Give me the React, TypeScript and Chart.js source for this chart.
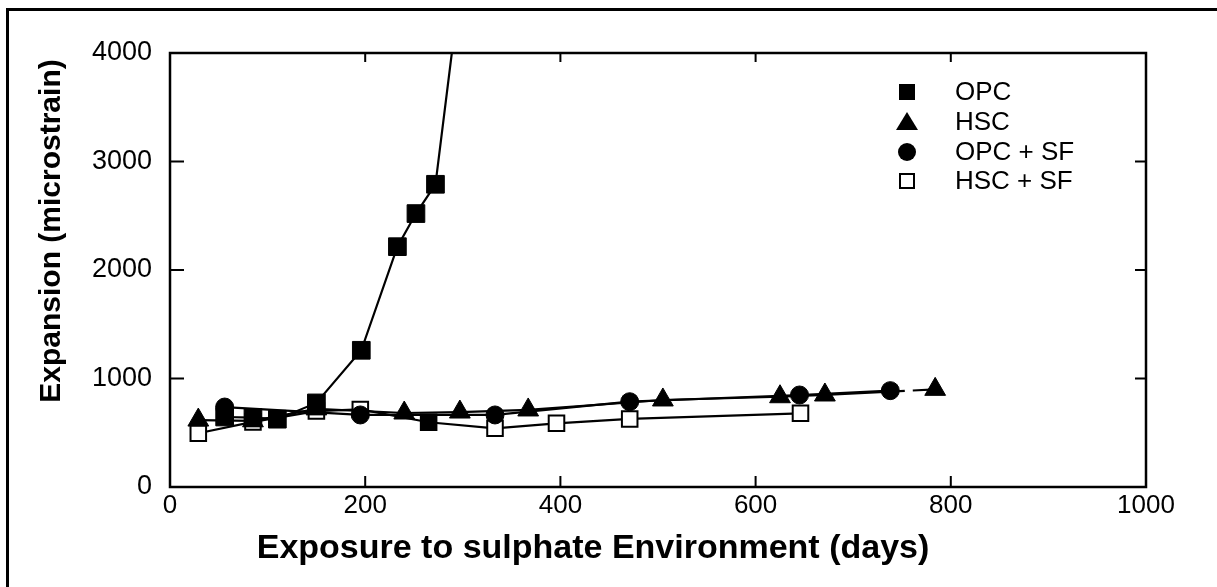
import React, { useEffect, useRef } from 'react';
import { Chart, registerables } from 'chart.js';

Chart.register(...registerables);

// ---- data ----
const xTicks = [0, 200, 400, 600, 800, 1000];
const yTicks = [0, 1000, 2000, 3000, 4000];

const seriesNames = ['OPC', 'HSC', 'OPC + SF', 'HSC + SF'];

const opcDays = [56, 85, 110, 150, 196, 233, 252, 272, 295];
const opcValues = [645, 640, 625, 775, 1260, 2215, 2520, 2790, 4450];

const hscDays = [29, 85, 150, 240, 297, 367, 505, 625, 671, 784];
const hscValues = [617, 610, 720, 682, 691, 710, 802, 832, 848, 900];

const opcSfDays = [56, 195, 333, 471, 645, 738];
const opcSfValues = [737, 664, 664, 786, 848, 888];

const hscSfDays = [29, 85, 150, 195, 265, 333, 396, 471, 646];
const hscSfValues = [495, 600, 700, 715, 597, 541, 587, 627, 679];

const xTitle = 'Exposure to sulphate Environment (days)';
const yTitle = 'Expansion (microstrain)';

const FONT = "'Liberation Sans', Arial, Helvetica, sans-serif";

const toPoints = (xs: number[], ys: number[]) => xs.map((x, i) => ({ x, y: ys[i] }));

const legendStyles = [
  { shape: 'rect', fill: true },
  { shape: 'triangle', fill: true },
  { shape: 'circle', fill: true },
  { shape: 'rect', fill: false },
];

const decorPlugin = {
  id: 'decor',
  afterDraw(chart: any) {
    const { ctx, chartArea: a, scales } = chart;
    const xs = scales.x;
    const ys = scales.y;
    ctx.save();
    ctx.strokeStyle = '#000';
    ctx.fillStyle = '#000';
    // frame
    ctx.lineWidth = 2.5;
    ctx.strokeRect(a.left, a.top, a.right - a.left, a.bottom - a.top);
    // inward ticks on all four sides
    ctx.lineWidth = 2;
    ctx.beginPath();
    xs.ticks.forEach((t: any) => {
      if (t.value <= xs.min || t.value >= xs.max) return;
      const px = xs.getPixelForValue(t.value);
      ctx.moveTo(px, a.bottom);
      ctx.lineTo(px, a.bottom - 11);
      ctx.moveTo(px, a.top);
      ctx.lineTo(px, a.top + 9);
    });
    ys.ticks.forEach((t: any) => {
      if (t.value <= ys.min || t.value >= ys.max) return;
      const py = ys.getPixelForValue(t.value);
      ctx.moveTo(a.left, py);
      ctx.lineTo(a.left + 14, py);
      ctx.moveTo(a.right, py);
      ctx.lineTo(a.right - 11, py);
    });
    ctx.stroke();

    // axis titles
    ctx.textAlign = 'center';
    ctx.textBaseline = 'middle';
    ctx.font = `bold 30px ${FONT}`;
    ctx.save();
    ctx.translate(52, 231);
    ctx.rotate(-Math.PI / 2);
    ctx.fillText(yTitle, 0, 0);
    ctx.restore();
    ctx.font = `bold 34px ${FONT}`;
    ctx.fillText(xTitle, 593, 549);

    // legend
    const rows = [92, 122, 152, 181];
    const mx = 907;
    ctx.font = `26px ${FONT}`;
    ctx.textAlign = 'left';
    seriesNames.forEach((name, i) => {
      const y = rows[i];
      const st = legendStyles[i];
      ctx.beginPath();
      if (st.shape === 'rect') {
        const s = 16;
        if (st.fill) {
          ctx.fillRect(mx - s / 2, y - s / 2, s, s);
        } else {
          ctx.lineWidth = 2;
          ctx.strokeRect(mx - 7, y - 7, 14, 14);
        }
      } else if (st.shape === 'triangle') {
        ctx.moveTo(mx, y - 10);
        ctx.lineTo(mx + 11, y + 8);
        ctx.lineTo(mx - 11, y + 8);
        ctx.closePath();
        ctx.fill();
      } else {
        ctx.arc(mx, y, 9, 0, Math.PI * 2);
        ctx.fill();
      }
      ctx.fillText(name, 955, y + 1);
    });
    ctx.restore();
  },
};

export default function App() {
  const ref = useRef<HTMLCanvasElement>(null);

  useEffect(() => {
    if (!ref.current) return;
    const lastHsc = hscDays.length - 1;
    const chart = new Chart(ref.current, {
      type: 'line',
      data: {
        datasets: [
          {
            label: seriesNames[0],
            data: toPoints(opcDays, opcValues),
            borderColor: '#000',
            borderWidth: 2.2,
            pointStyle: 'rect',
            pointRadius: 12.5,
            pointBackgroundColor: '#000',
            pointBorderColor: '#000',
            pointBorderWidth: 1,
            tension: 0,
          },
          {
            label: seriesNames[1],
            data: toPoints(hscDays, hscValues),
            borderColor: '#000',
            borderWidth: 2.2,
            pointStyle: 'triangle',
            pointRadius: 12,
            pointBackgroundColor: '#000',
            pointBorderColor: '#000',
            pointBorderWidth: 1,
            tension: 0,
            segment: {
              borderDash: (c: any) => (c.p1DataIndex === lastHsc ? [80, 8, 300] : undefined),
            },
          },
          {
            label: seriesNames[2],
            data: toPoints(opcSfDays, opcSfValues),
            borderColor: '#000',
            borderWidth: 2.2,
            pointStyle: 'circle',
            pointRadius: 9,
            pointBackgroundColor: '#000',
            pointBorderColor: '#000',
            pointBorderWidth: 1,
            tension: 0,
          },
          {
            label: seriesNames[3],
            data: toPoints(hscSfDays, hscSfValues),
            borderColor: '#000',
            borderWidth: 2.2,
            pointStyle: 'rect',
            pointRadius: 11,
            pointBackgroundColor: (c: any) => (c.dataIndex === 4 ? '#000' : '#fff'),
            pointBorderColor: '#000',
            pointBorderWidth: 2,
            tension: 0,
          },
        ],
      },
      options: {
        responsive: false,
        animation: false,
        events: [],
        layout: { padding: { left: 0, top: 53, right: 71, bottom: 0 } },
        plugins: {
          legend: { display: false },
          tooltip: { enabled: false },
          title: { display: false },
        },
        scales: {
          x: {
            type: 'linear',
            min: 0,
            max: 1000,
            afterBuildTicks: (s: any) => {
              s.ticks = xTicks.map((v) => ({ value: v }));
            },
            afterFit: (s: any) => {
              s.height = 100;
            },
            grid: { display: false, drawTicks: false, tickLength: 0 },
            border: { display: false },
            ticks: {
              color: '#000',
              padding: 3,
              maxRotation: 0,
              callback: (v: any) => String(v),
              font: { family: FONT, size: 26 },
            },
          },
          y: {
            type: 'linear',
            min: 0,
            max: 4000,
            afterBuildTicks: (s: any) => {
              s.ticks = yTicks.map((v) => ({ value: v }));
            },
            afterFit: (s: any) => {
              s.width = 170;
            },
            grid: { display: false, drawTicks: false, tickLength: 0 },
            border: { display: false },
            ticks: {
              color: '#000',
              padding: 18,
              callback: (v: any) => String(v),
              font: { family: FONT, size: 27 },
            },
          },
        },
      },
      plugins: [decorPlugin],
    });
    return () => chart.destroy();
  }, []);

  return (
    <div style={{ position: 'absolute', left: 0, top: 0, width: 1217, height: 587, background: '#fff', overflow: 'hidden' }}>
      <canvas ref={ref} width={1217} height={587} style={{ position: 'absolute', left: 0, top: 0 }} />
      <div
        style={{
          position: 'absolute',
          left: 6,
          top: 8,
          width: 1400,
          height: 800,
          borderLeft: '3px solid #000',
          borderTop: '3px solid #000',
          pointerEvents: 'none',
        }}
      />
    </div>
  );
}
